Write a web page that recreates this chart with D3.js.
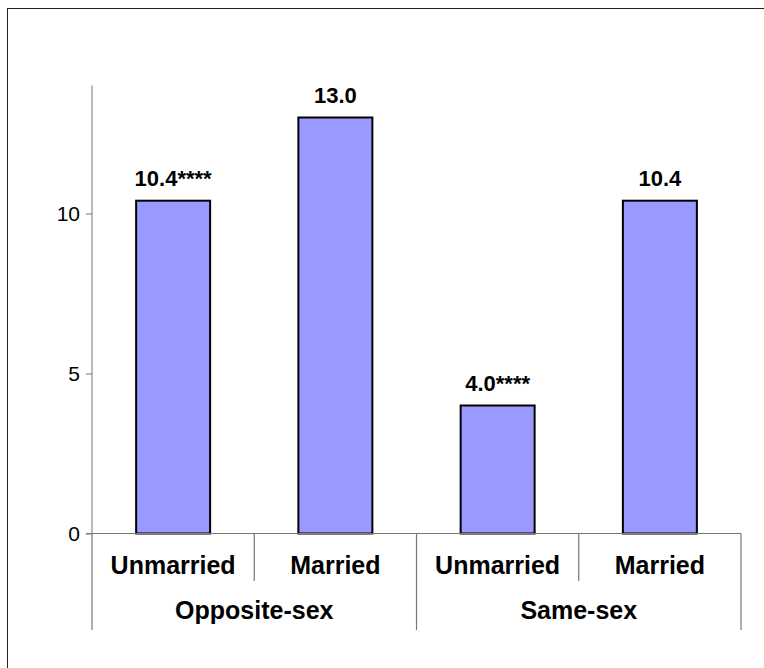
<!DOCTYPE html>
<html>
<head>
<meta charset="utf-8">
<script src="https://cdn.jsdelivr.net/npm/d3@7"></script>
<style>
  html, body { margin: 0; padding: 0; background: #fff; }
  svg { display: block; font-family: "Liberation Sans", Arial, sans-serif; }
</style>
</head>
<body>
<svg id="chart" width="764" height="668"></svg>
<script>
const categories = ["Unmarried", "Married", "Unmarried", "Married"];
const groups = ["Opposite-sex", "Same-sex"];
const groupOf = [0, 0, 1, 1];
const values = [10.4, 13.0, 4.0, 10.4];
const valueText = ["10.4", "13.0", "4.0", "10.4"];
const starText = ["****", "", "****", ""];
const yTicks = [0, 5, 10];
const yMax = 14;

(function () {
const FONT = "'Liberation Sans', Arial, sans-serif";
const svg = d3.select("#chart");

// outer frame
svg.append("rect")
  .attr("x", 7.5).attr("y", 8.5)
  .attr("width", 800).attr("height", 700)
  .attr("fill", "none").attr("stroke", "#222").attr("stroke-width", 1);

const pLeft = 92, pRight = 741, pTop = 85.5, pBottom = 533.5;
const idx = d3.range(categories.length);

const x = d3.scaleBand().domain(idx).range([pLeft, pRight])
  .paddingInner(0.544).paddingOuter(0.272);
const xCell = d3.scaleBand().domain(idx).range([pLeft, pRight]);
const xGroup = d3.scaleBand().domain(d3.range(groups.length)).range([pLeft, pRight]);
const y = d3.scaleLinear().domain([0, yMax]).range([pBottom, pTop]);

const axisColor = "#777";

// y axis
const yAxis = svg.append("g")
  .attr("transform", `translate(${pLeft},0)`)
  .call(d3.axisLeft(y).tickValues(yTicks).tickSize(6).tickPadding(6).tickFormat(d3.format("d")));
yAxis.select(".domain").attr("stroke", axisColor).attr("d", `M0,${pTop}V${pBottom}`);
yAxis.selectAll(".tick line").attr("stroke", axisColor);
yAxis.selectAll(".tick text")
  .attr("fill", "#000").attr("font-size", 21)
  .attr("font-family", FONT);

// bars
svg.append("g").selectAll("rect").data(idx).join("rect")
  .attr("x", i => x(i))
  .attr("y", i => y(values[i]))
  .attr("width", x.bandwidth())
  .attr("height", i => y(0) - y(values[i]))
  .attr("fill", "#9999FF")
  .attr("stroke", "#000")
  .attr("stroke-width", 2);

// baseline (zero line)
svg.append("line")
  .attr("x1", pLeft - 6).attr("x2", pRight)
  .attr("y1", y(0)).attr("y2", y(0))
  .attr("stroke", axisColor).attr("stroke-width", 1.2);

// category separators
const boundaries = d3.range(categories.length + 1);
svg.append("g").selectAll("line").data(boundaries).join("line")
  .attr("x1", i => i < categories.length ? xCell(i) : pRight)
  .attr("x2", i => i < categories.length ? xCell(i) : pRight)
  .attr("y1", y(0))
  .attr("y2", i => (i === 0 || i === categories.length || groupOf[i] !== groupOf[i - 1]) ? 630 : 581)
  .attr("stroke", axisColor).attr("stroke-width", 1.2);

// value labels
const vl = svg.append("g").selectAll("text").data(idx).join("text")
  .attr("x", i => x(i) + x.bandwidth() / 2)
  .attr("y", i => y(values[i]) - 15)
  .attr("text-anchor", "middle")
  .attr("font-family", FONT)
  .attr("font-weight", "bold")
  .attr("font-size", 22)
  .attr("fill", "#000");
vl.append("tspan").text(i => valueText[i]);
vl.append("tspan").text(i => starText[i]);

// category labels
svg.append("g").selectAll("text").data(idx).join("text")
  .attr("x", i => xCell(i) + xCell.bandwidth() / 2)
  .attr("y", 574)
  .attr("text-anchor", "middle")
  .attr("font-family", FONT)
  .attr("font-weight", "bold")
  .attr("font-size", 25)
  .attr("fill", "#000")
  .text(i => categories[i]);

// group labels
svg.append("g").selectAll("text").data(d3.range(groups.length)).join("text")
  .attr("x", g => xGroup(g) + xGroup.bandwidth() / 2)
  .attr("y", 619)
  .attr("text-anchor", "middle")
  .attr("font-family", FONT)
  .attr("font-weight", "bold")
  .attr("font-size", 25)
  .attr("fill", "#000")
  .text(g => groups[g]);
})();
</script>
</body>
</html>
